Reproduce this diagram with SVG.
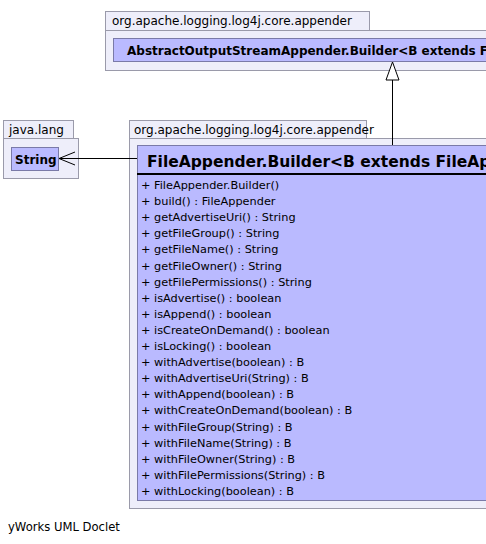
<svg xmlns="http://www.w3.org/2000/svg" width="486" height="544" viewBox="0 0 486 544">
<style>
.pkg{fill:#eeeefa;stroke:#9a9aaa;stroke-width:1}
.cls{fill:#babaff;stroke:#7a7aa8;stroke-width:1}
.t{font-family:"DejaVu Sans","Liberation Sans",sans-serif;fill:#000}
.pl{font-size:12px}
.m{font-size:11.3px}
.b{font-weight:bold}
.ln{stroke:#000;stroke-width:1;fill:none}
</style>
<rect width="486" height="544" fill="#fff"/>
<g id="pkg-top">
<rect class="pkg" x="105.5" y="11.5" width="264" height="19"/>
<rect class="pkg" x="105.5" y="30.5" width="390" height="40"/>
<text class="t pl" x="112" y="25">org.apache.logging.log4j.core.appender</text>
</g>
<g id="AbstractOutputStreamAppender.Builder">
<rect class="cls" x="113.5" y="38.5" width="390" height="23"/>
<text class="t b" font-size="12" x="127" y="54.5">AbstractOutputStreamAppender.Builder&lt;B extends FileAppender.Builder&lt;B&gt;&gt;</text>
</g>
<g id="pkg-java-lang">
<rect class="pkg" x="3.5" y="120.5" width="70" height="18"/>
<rect class="pkg" x="3.5" y="138.5" width="75" height="40"/>
<text class="t pl" x="9" y="134">java.lang</text>
</g>
<g id="String">
<rect class="cls" x="11.5" y="147.5" width="47" height="23"/>
<text class="t b" font-size="12" x="15" y="164">String</text>
</g>
<g id="pkg-main">
<rect class="pkg" x="129.5" y="120.5" width="237" height="18"/>
<rect class="pkg" x="129.5" y="138.5" width="370" height="370"/>
<text class="t pl" x="134" y="134">org.apache.logging.log4j.core.appender</text>
</g>
<g id="FileAppender.Builder">
<rect class="cls" x="137.5" y="145.5" width="360" height="355"/>
<line x1="137" y1="174" x2="486" y2="174" stroke="#000" stroke-width="2"/>
<text class="t b" font-size="15.5" x="147" y="167">FileAppender.Builder&lt;B extends FileAppender.Builder&lt;B&gt;&gt;</text>
<g class="t m">
<text x="141" y="189">+  FileAppender.Builder()</text>
<text x="141" y="205.1">+  build() : FileAppender</text>
<text x="141" y="221.2">+  getAdvertiseUri() : String</text>
<text x="141" y="237.3">+  getFileGroup() : String</text>
<text x="141" y="253.4">+  getFileName() : String</text>
<text x="141" y="269.5">+  getFileOwner() : String</text>
<text x="141" y="285.6">+  getFilePermissions() : String</text>
<text x="141" y="301.7">+  isAdvertise() : boolean</text>
<text x="141" y="317.8">+  isAppend() : boolean</text>
<text x="141" y="333.9">+  isCreateOnDemand() : boolean</text>
<text x="141" y="350">+  isLocking() : boolean</text>
<text x="141" y="366.1">+  withAdvertise(boolean) : B</text>
<text x="141" y="382.2">+  withAdvertiseUri(String) : B</text>
<text x="141" y="398.3">+  withAppend(boolean) : B</text>
<text x="141" y="414.4">+  withCreateOnDemand(boolean) : B</text>
<text x="141" y="430.5">+  withFileGroup(String) : B</text>
<text x="141" y="446.6">+  withFileName(String) : B</text>
<text x="141" y="462.7">+  withFileOwner(String) : B</text>
<text x="141" y="478.8">+  withFilePermissions(String) : B</text>
<text x="141" y="494.9">+  withLocking(boolean) : B</text>
</g>
</g>
<g id="connectors">
<line class="ln" x1="392.5" y1="145" x2="392.5" y2="80"/>
<polygon points="392.5,62 386,80 399,80" fill="#fff" stroke="#000" stroke-width="1"/>
<line class="ln" x1="137" y1="158.5" x2="59" y2="158.5"/>
<polyline class="ln" points="75,152 59,158.5 75,165"/>
</g>
<text class="t" font-size="11.6" x="8" y="531">yWorks UML Doclet</text>
</svg>
